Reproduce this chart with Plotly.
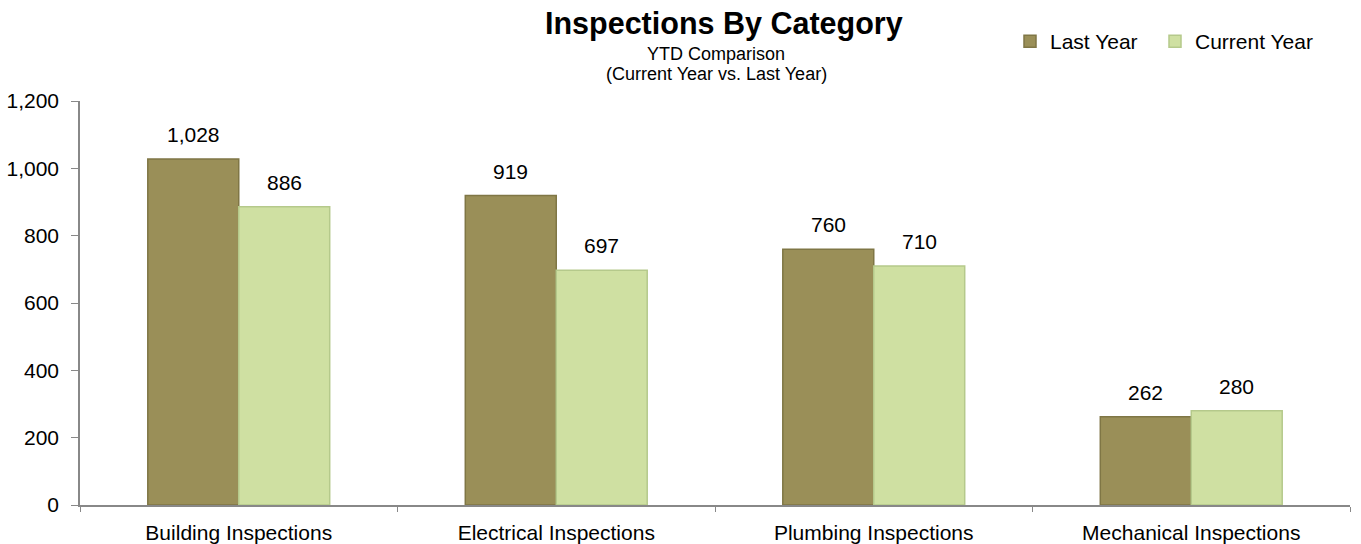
import plotly.graph_objects as go

categories = ["Building Inspections", "Electrical Inspections", "Plumbing Inspections", "Mechanical Inspections"]
last_year = [1028, 919, 760, 262]
current_year = [886, 697, 710, 280]
y_ticks = [0, 200, 400, 600, 800, 1000, 1200]

font = "Liberation Sans, Arial, sans-serif"
BAR_HALF = 45.5  # half of one bar's pixel width, used to centre value labels

fig = go.Figure()
fig.add_trace(go.Bar(
    name="Last Year", x=categories, y=last_year, legendwidth=100,
    marker=dict(color="#9A8F58", line=dict(color="#7f7645", width=1.5)),
))
fig.add_trace(go.Bar(
    name="Current Year", x=categories, y=current_year,
    marker=dict(color="#CFE0A2", line=dict(color="#b5c98b", width=1.5)),
))

# value labels above each bar
annotations = []
for cat, v in zip(categories, last_year):
    annotations.append(dict(x=cat, y=v, xref="x", yref="y", text=f"{v:,}", showarrow=False,
                            xshift=-BAR_HALF, yshift=11, yanchor="bottom",
                            font=dict(size=21, color="#000000")))
for cat, v in zip(categories, current_year):
    annotations.append(dict(x=cat, y=v, xref="x", yref="y", text=f"{v:,}", showarrow=False,
                            xshift=BAR_HALF, yshift=11, yanchor="bottom",
                            font=dict(size=21, color="#000000")))

# title block
annotations += [
    dict(x=0.507, y=1.193, xref="paper", yref="paper", text="<b>Inspections By Category</b>",
         showarrow=False, xanchor="center", yanchor="middle", font=dict(size=30.5, color="#000000")),
    dict(x=0.5008, y=1.1163, xref="paper", yref="paper", text="YTD Comparison",
         showarrow=False, xanchor="center", yanchor="middle", font=dict(size=18, color="#000000")),
    dict(x=0.5008, y=1.0668, xref="paper", yref="paper", text="(Current Year vs. Last Year)",
         showarrow=False, xanchor="center", yanchor="middle", font=dict(size=18, color="#000000")),
]

fig.update_layout(
    width=1361, height=544,
    margin=dict(l=80, r=11, t=101, b=39),
    paper_bgcolor="white", plot_bgcolor="white",
    font=dict(family=font, size=21, color="#000000"),
    barmode="group", bargap=0.427, bargroupgap=0,
    showlegend=True,
    legend=dict(orientation="h", x=(1010 - 80) / 1270, xref="paper", y=1 - 21 / 544, yref="container",
                xanchor="left", yanchor="top", font=dict(size=21),
                itemwidth=30, traceorder="normal"),
    annotations=annotations,
    xaxis=dict(showline=True, linecolor="#888888", linewidth=1.5, ticks="outside",
               tickson="boundaries", ticklen=5, tickcolor="#888888",
               tickfont=dict(size=21), showgrid=False, automargin=False,
               ticklabelstandoff=8),
    yaxis=dict(range=[0, 1200], tickvals=y_ticks, ticktext=[f"{v:,}" for v in y_ticks],
               showline=True, linecolor="#888888", linewidth=1.5, ticks="outside",
               ticklen=7, tickcolor="#888888", showgrid=False, zeroline=False,
               tickfont=dict(size=21), automargin=False, ticklabelstandoff=8),
)

fig.write_html("out.html")
